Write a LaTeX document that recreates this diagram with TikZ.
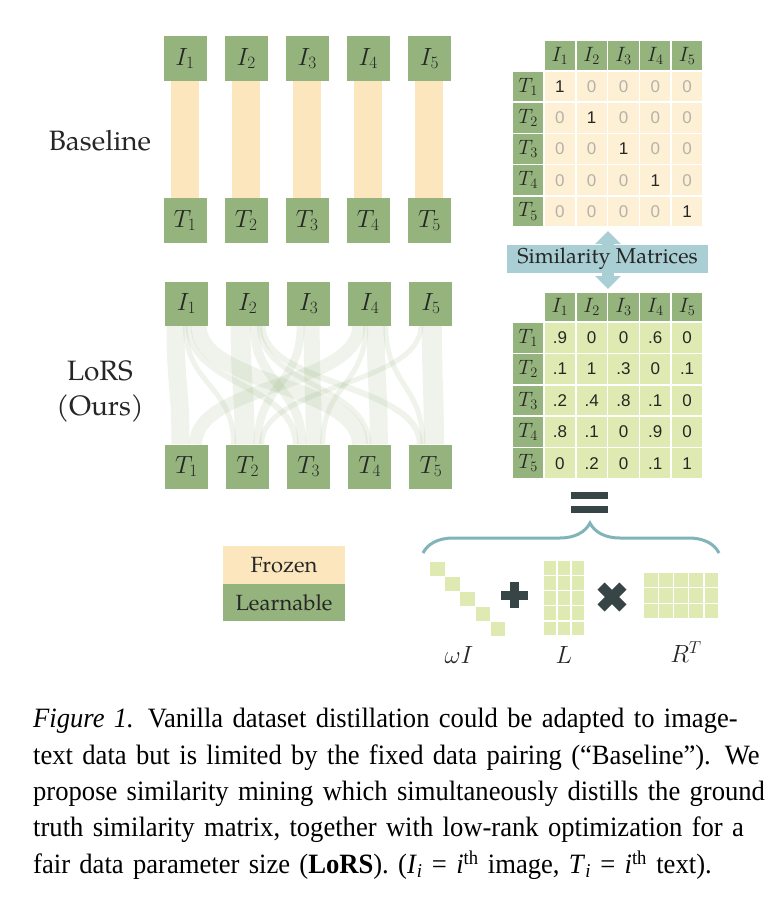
\documentclass[tikz,border=0pt]{standalone}
\usepackage{fontspec}
\setmainfont{Liberation Serif}
\newfontfamily\capfont[FakeStretch=0.95]{Liberation Serif}
\newfontfamily\pal{TeX Gyre Pagella}
\newfontfamily\arial{Liberation Sans}
\usetikzlibrary{arrows.meta,decorations.pathreplacing,calc}
\definecolor{grn}{HTML}{94B37D}
\definecolor{frz}{HTML}{FCE6BE}
\definecolor{mone}{HTML}{FDF0D4}
\definecolor{mtwo}{HTML}{DFE9B2}
\definecolor{bann}{HTML}{A9CED4}
\definecolor{brc}{HTML}{80B4B9}
\definecolor{dark}{HTML}{384547}
\definecolor{zgray}{HTML}{B4B2AA}
\definecolor{txt}{HTML}{262626}
\newcommand\capline[1]{\makebox[697pt][s]{#1}}
\tikzset{
  gbox/.style={fill=grn, minimum width=43pt, minimum height=44pt, inner sep=0pt, text=txt, font=\fontsize{25}{28}\selectfont},
  bar/.style={draw=frz, line width=28pt},
  flow/.style={draw=grn, draw opacity=0.15},
  cell/.style={minimum width=31.8pt, minimum height=31.2pt, draw=white, line width=1.5pt, inner sep=0pt, text=txt, font=\arial\fontsize{17}{19}\selectfont},
  hcell/.style={cell, fill=grn, font=\fontsize{21}{24}\selectfont},
  lbl/.style={text=txt, font=\pal\fontsize{28}{35}\selectfont, align=center},
  leg/.style={minimum width=122pt, minimum height=37.5pt, inner sep=0pt, text=txt, font=\pal\fontsize{22}{26}\selectfont},
  sq/.style={fill=mtwo},
}
\begin{document}
\begin{tikzpicture}[x=1pt,y=-1pt]
\useasboundingbox (0,0) rectangle (768,897);
\fill[white] (0,0) rectangle (768,897);

% ---------- Baseline ----------
\node[lbl] (bl) at (100,141) {Baseline};
\foreach \j in {1,...,5}{
  \node[gbox, minimum height=45pt] (BI\j) at ({185+61.1*(\j-1)},58.5) {$I_{\j}$};
  \node[gbox, minimum height=45pt] (BT\j) at ({185+61.1*(\j-1)},220.5) {$T_{\j}$};
  \draw[bar] (BI\j.south) -- (BT\j.north);
}

% ---------- LoRS ----------
\node[lbl] (lors) at (100,391) {LoRS\\(Ours)};
\foreach \j in {1,...,5}{
  \node[gbox] (LI\j) at ({186.5+61.1*(\j-1)},303.5) {$I_{\j}$};
  \node[gbox] (LT\j) at ({186.5+61.1*(\j-1)},466.5) {$T_{\j}$};
}
\foreach \s/\t/\a/\b/\w in {1/1/-11/-6/18, 1/2/-1/-14/5, 1/3/2/-13/6, 1/4/12/-10/16,
  2/2/-7/-3/20, 2/3/7/-7/9, 2/4/12/-1/5, 2/5/15/-11/6, 3/2/-8/10/8, 3/3/3/5/16,
  4/1/-11/9/13, 4/3/-4/14/5, 4/4/6/9/18, 4/5/16/-8/5, 5/2/-10/14/5, 5/5/1/3/20}{
  \draw[flow, line width=\w pt] ([xshift=\a pt]LI\s.south) .. controls +(0,60) and +(0,-60) .. ([xshift=\b pt]LT\t.north);
}

% ---------- Matrix 1 ----------
\foreach \j in {1,...,5}{
  \node[hcell] (AH\j) at ({544+31.8*(\j-0.5)},55.5) {$I_{\j}$};
  \node[hcell] (AR\j) at (528.1,{71+31.2*(\j-0.5)}) {$T_{\j}$};
}
\foreach \i in {1,...,5}{
  \foreach \j in {1,...,5}{
    \node[cell, fill=mone] (A\i\j) at ({544+31.8*(\j-0.5)},{71+31.2*(\i-0.5)}) {\ifnum\i=\j\relax 1\else\textcolor{zgray}{0}\fi};
  }
}

% ---------- Similarity Matrices banner ----------
\coordinate (arT) at (608,231);
\coordinate (arB) at (608,289);
\draw[bann, line width=12pt, {Triangle[width=25pt,length=13pt]}-{Triangle[width=25pt,length=13pt]}] (arT) -- (arB);
\node[fill=bann, minimum width=201pt, minimum height=28pt, inner sep=0pt, text=txt, font=\pal\fontsize{21.5}{24}\selectfont] (sim) at (607.5,259) {Similarity Matrices};

% ---------- Matrix 2 ----------
\foreach \j in {1,...,5}{
  \node[hcell, minimum height=30pt] (BH\j) at ({544+31.8*(\j-0.5)},307) {$I_{\j}$};
  \node[hcell, minimum height=31.4pt] (BR\j) at (528.1,{322+31.4*(\j-0.5)}) {$T_{\j}$};
}
\foreach \i/\vals in {1/{.9,0,0,.6,0}, 2/{.1,1,.3,0,.1}, 3/{.2,.4,.8,.1,0}, 4/{.8,.1,0,.9,0}, 5/{0,.2,0,.1,1}}{
  \foreach \v [count=\j] in \vals {
    \node[cell, fill=mtwo, minimum height=31.4pt] (B\i\j) at ({544+31.8*(\j-0.5)},{322+31.4*(\i-0.5)}) {\v};
  }
}

% ---------- equals + brace ----------
\fill[dark] (571,492) rectangle (608,499);
\fill[dark] (571,506) rectangle (608,513);
\draw[brc, line width=3pt, decorate, decoration={brace, amplitude=30pt, aspect=0.564}] (423,553) -- (719,553);

% ---------- legend ----------
\node[leg, fill=frz] (fro) at (284,565) {Frozen};
\node[leg, fill=grn] (lea) at (284,602.5) {Learnable};

% ---------- omega I ----------
\foreach \k in {0,...,4}{
  \fill[sq] ({430+15.2*\k},{562+15*\k}) rectangle +(14.5,14);
}
% plus
\fill[dark] (501,590.5) rectangle (528,599.5);
\fill[dark] (510,582) rectangle (519,608);
% L matrix 3x5
\foreach \c in {0,1,2}{
  \foreach \r in {0,...,4}{
    \fill[sq] ({543+14*\c+0.7},{560+15.2*\r+0.7}) rectangle +(12.6,13.8);
  }
}
% times
\begin{scope}[rotate around={45:(612,597)}]
  \fill[dark] (596.5,592) rectangle (627.5,602);
  \fill[dark] (607,581.5) rectangle (617,612.5);
\end{scope}
% R^T 5x3
\foreach \c in {0,...,4}{
  \foreach \r in {0,1,2}{
    \fill[sq] ({643+15.2*\c+0.7},{572+15.67*\r+0.7}) rectangle +(13.8,14.27);
  }
}
\node[text=txt, font=\fontsize{26}{30}\selectfont] (wI) at (459,655) {$\omega I$};
\node[text=txt, font=\fontsize{26}{30}\selectfont] (Lm) at (564,655) {$L$};
\node[text=txt, font=\fontsize{26}{30}\selectfont] (Rm) at (686,652) {$R^{T}$};

% ---------- caption ----------
\node[anchor=north west, inner sep=0pt, text width=697pt, align=left, text=black,
  font=\capfont\fontsize{28}{36.4}\selectfont] (cap) at (33,708)
{\capline{\textit{Figure 1.} Vanilla dataset distillation could be adapted to image-}\\
\capline{text data but is limited by the fixed data pairing (“Baseline”). We}\\
\capline{propose similarity mining which simultaneously distills the ground}\\
\capline{truth similarity matrix, together with low-rank optimization for a}\\
fair data parameter size (\textbf{LoRS}). (\textit{I}\textsubscript{\textit{i}} = \textit{i}\textsuperscript{th} image, \textit{T}\textsubscript{\textit{i}} = \textit{i}\textsuperscript{th} text).};
\end{tikzpicture}
\end{document}
